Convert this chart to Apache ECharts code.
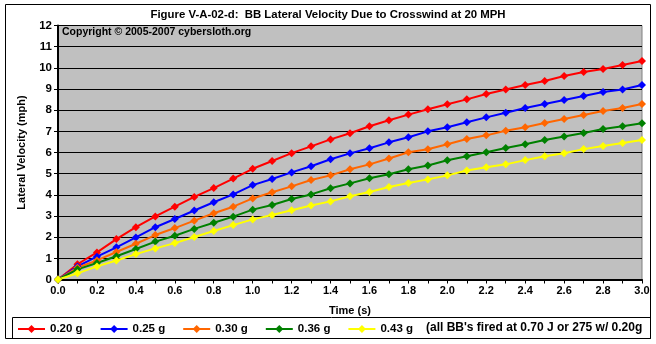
<!DOCTYPE html>
<html>
<head>
<meta charset="utf-8">
<script src="https://cdn.jsdelivr.net/npm/echarts@6/dist/echarts.min.js"></script>
<style>
  html, body { margin: 0; padding: 0; background: #fff; }
  #chart { width: 656px; height: 344px; }
</style>
</head>
<body>
<div id="chart"></div>
<script>
// Time samples (s), every 0.1 s
const times = [0.0, 0.1, 0.2, 0.3, 0.4, 0.5, 0.6, 0.7, 0.8, 0.9, 1.0,
  1.1, 1.2, 1.3, 1.4, 1.5, 1.6, 1.7, 1.8, 1.9, 2.0,
  2.1, 2.2, 2.3, 2.4, 2.5, 2.6, 2.7, 2.8, 2.9, 3.0];

// Lateral velocity (mph) per BB mass
const v020 = [0, 0.72, 1.28, 1.91, 2.47, 2.98, 3.44, 3.90, 4.32, 4.77, 5.23,
  5.60, 5.97, 6.29, 6.62, 6.91, 7.24, 7.52, 7.79, 8.04, 8.28,
  8.51, 8.76, 8.98, 9.19, 9.38, 9.61, 9.80, 9.94, 10.13, 10.32];
const v025 = [0, 0.62, 1.08, 1.52, 1.99, 2.47, 2.86, 3.26, 3.65, 4.02, 4.46,
  4.75, 5.06, 5.35, 5.68, 5.96, 6.20, 6.48, 6.72, 7.00, 7.19,
  7.43, 7.66, 7.88, 8.10, 8.29, 8.48, 8.67, 8.86, 8.98, 9.19];
const v030 = [0, 0.56, 0.90, 1.30, 1.69, 2.10, 2.43, 2.78, 3.13, 3.44, 3.83,
  4.12, 4.40, 4.70, 4.92, 5.21, 5.44, 5.72, 6.01, 6.15, 6.39,
  6.64, 6.81, 7.03, 7.19, 7.39, 7.58, 7.77, 7.96, 8.10, 8.29];
const v036 = [0, 0.48, 0.78, 1.10, 1.44, 1.79, 2.07, 2.39, 2.68, 2.97, 3.30,
  3.52, 3.80, 4.02, 4.31, 4.54, 4.78, 4.97, 5.21, 5.39, 5.63,
  5.82, 6.01, 6.21, 6.39, 6.59, 6.76, 6.92, 7.11, 7.24, 7.38];
const v043 = [0, 0.29, 0.62, 0.90, 1.20, 1.47, 1.72, 2.01, 2.29, 2.57, 2.84,
  3.05, 3.27, 3.50, 3.69, 3.93, 4.13, 4.37, 4.56, 4.73, 4.92,
  5.15, 5.30, 5.44, 5.64, 5.82, 5.96, 6.16, 6.31, 6.45, 6.59];

const seriesNames = ['0.20 g', '0.25 g', '0.30 g', '0.36 g', '0.43 g'];
const seriesValues = [v020, v025, v030, v036, v043];
const seriesColors = ['#FF0000', '#0000FF', '#FF6600', '#008000', '#FFFF00'];

const titleText = 'Figure V-A-02-d:  BB Lateral Velocity Due to Crosswind at 20 MPH';
const copyrightText = 'Copyright \u00A9 2005-2007 cybersloth.org';
const noteText = "(all BB's fired at 0.70 J or 275 w/ 0.20g";

const FONT = '"Liberation Sans", Arial, sans-serif';

const chart = echarts.init(document.getElementById('chart'), null, { renderer: 'canvas' });

const series = seriesNames.map((name, i) => ({
  name: name,
  type: 'line',
  data: times.map((t, k) => [t, seriesValues[i][k]]),
  symbol: 'diamond',
  symbolSize: 8,
  showAllSymbol: true,
  lineStyle: { color: seriesColors[i], width: 2 },
  itemStyle: { color: seriesColors[i] },
  animation: false
}));

chart.setOption({
  animation: false,
  backgroundColor: '#FFFFFF',
  title: {
    text: titleText,
    left: 'center',
    top: 9,
    padding: 0,
    textStyle: { fontFamily: FONT, fontSize: 11.4, fontWeight: 'bold', color: '#000' }
  },
  grid: {
    left: 58, right: 14, top: 25.5, bottom: 64.5,
    show: true,
    backgroundColor: '#C0C0C0',
    borderColor: '#808080',
    borderWidth: 1
  },
  xAxis: {
    type: 'value',
    min: 0, max: 3, interval: 0.1,
    name: 'Time (s)',
    nameLocation: 'middle',
    nameGap: 26,
    nameTextStyle: { fontFamily: FONT, fontSize: 11, fontWeight: 'bold', color: '#000' },
    axisLine: { show: true, onZero: false, lineStyle: { color: '#000', width: 2 } },
    axisTick: { show: true, inside: false, length: 4, lineStyle: { color: '#000', width: 1 } },
    axisLabel: {
      margin: 6,
      fontFamily: FONT, fontSize: 11, fontWeight: 'bold', color: '#000',
      formatter: v => (Math.round(v * 10) % 2 === 0 ? v.toFixed(1) : '')
    },
    splitLine: { show: false }
  },
  yAxis: {
    type: 'value',
    min: 0, max: 12, interval: 1,
    name: 'Lateral Velocity (mph)',
    nameLocation: 'middle',
    nameGap: 31,
    nameTextStyle: { fontFamily: FONT, fontSize: 11, fontWeight: 'bold', color: '#000' },
    axisLine: { show: true, lineStyle: { color: '#000', width: 2 } },
    axisTick: { show: true, inside: false, length: 4, lineStyle: { color: '#000', width: 1 } },
    axisLabel: { margin: 6, fontFamily: FONT, fontSize: 11.5, fontWeight: 'bold', color: '#000' },
    splitLine: { show: true, lineStyle: { color: '#000', width: 1 } }
  },
  legend: {
    data: seriesNames,
    left: 17,
    top: 323,
    padding: 0,
    itemWidth: 27,
    itemHeight: 10,
    itemGap: 17,
    selectedMode: false,
    textStyle: { fontFamily: FONT, fontSize: 11.5, fontWeight: 'bold', color: '#000' }
  },
  graphic: [
    {
      type: 'rect',
      silent: true,
      shape: { x: 5.5, y: 4.5, width: 645, height: 334 },
      style: { fill: null, stroke: '#000', lineWidth: 1 }
    },
    {
      type: 'rect',
      silent: true,
      shape: { x: 12.5, y: 317.5, width: 638, height: 21 },
      style: { fill: '#FFFFFF', stroke: '#000', lineWidth: 1 },
      z: -1
    },
    {
      type: 'text',
      silent: true,
      left: 426,
      top: 321.5,
      style: { text: noteText, font: 'bold 12px ' + FONT, fill: '#000' }
    },
    {
      type: 'text',
      silent: true,
      left: 62,
      top: 27,
      z: 10,
      style: { text: copyrightText, font: 'bold 10.5px ' + FONT, fill: '#000' }
    }
  ],
  series: series
});
</script>
</body>
</html>
